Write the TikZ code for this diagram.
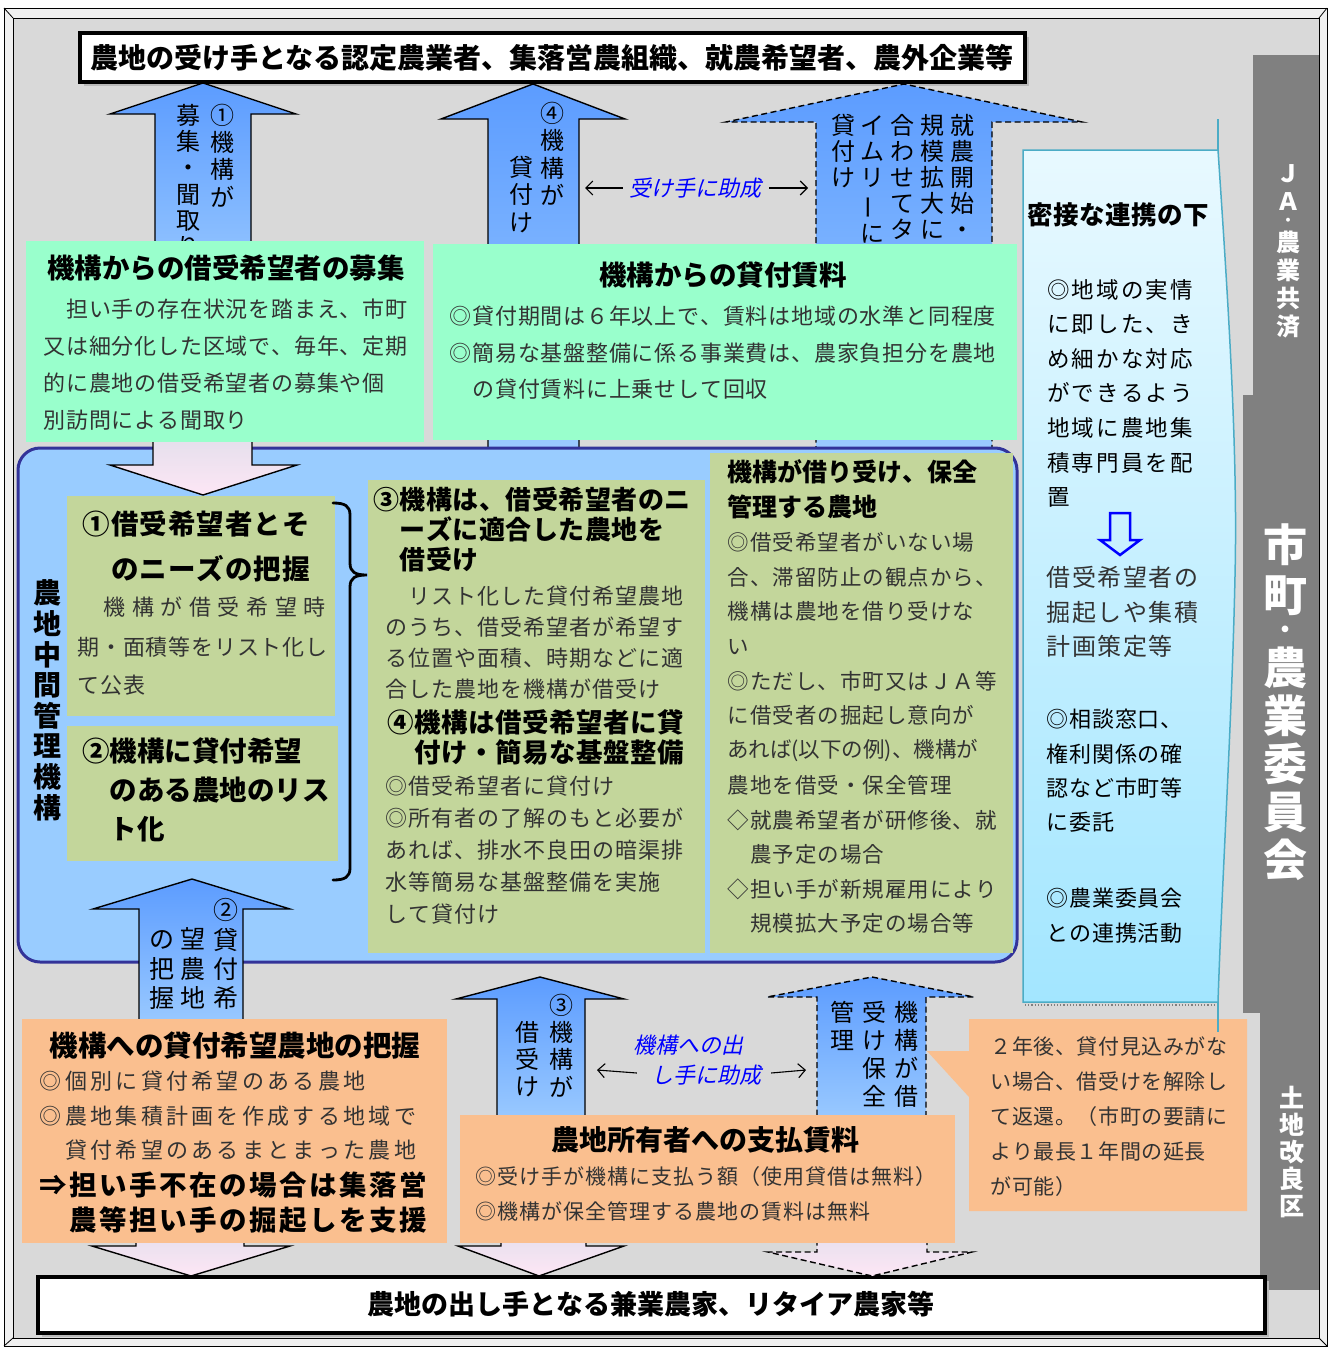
\documentclass[tikz,border=0pt]{standalone}
\usepackage{fontspec}
\usepackage{graphicx}
\setmainfont{Noto Sans CJK JP}
\newfontfamily\slfont{Noto Sans CJK JP}[FakeSlant=0.22]
\usetikzlibrary{arrows.meta}
\definecolor{bgg}{HTML}{D9D9D9}
\definecolor{dg}{HTML}{808080}
\definecolor{mint}{HTML}{99FFCC}
\definecolor{olive}{HTML}{C3D69B}
\definecolor{cont}{HTML}{99CCFF}
\definecolor{navy}{HTML}{333399}
\definecolor{orng}{HTML}{FABF8F}
\definecolor{arT}{HTML}{5C9CFF}
\definecolor{arB}{HTML}{9CCBFF}
\definecolor{pkT}{HTML}{E4DFEC}
\definecolor{pkB}{HTML}{FDE6F5}
\definecolor{panT}{HTML}{E8F9FF}
\definecolor{panB}{HTML}{A3E6FF}
\definecolor{teal1}{HTML}{4BACC6}
\definecolor{bodyc}{HTML}{333333}
\makeatletter
\newcommand\pitched[2]{\edef\p@tmp{\noexpand\@tfor\noexpand\p@c:=#2\noexpand\do}\p@tmp{\hbox to #1{\hss\p@c\hss}}}
\newcommand\vcol[2]{\vbox{\offinterlineskip\@tfor\vc@c:=#2\do{\hbox to 1em{\vrule height .88em depth .12em width 0pt\hss\vc@c\hss}\kern\dimexpr#1-1em\relax}}}
\makeatother
\newcommand\block[8]{\foreach \tx [count=\i from 0] in {#8}{\node[anchor=base west,inner sep=0pt,font=\fontsize{#6}{#6}\selectfont#7] (#1-\i) at (#2,{#3+\i*#4+0.36*#6}) {\pitched{#5pt}{\tx}};}}
\tikzset{
 uparr/.style={draw=black,line width=1.4,top color=arT,bottom color=arB,line join=miter},
 dup/.style={uparr,dash pattern=on 6pt off 3.5pt},
 pinkarr/.style={draw=black,line width=1.4,top color=pkT,bottom color=pkB,line join=miter},
 dpink/.style={pinkarr,dash pattern=on 6pt off 3.5pt},
 sarr/.style={-{Straight Barb[length=7pt,width=14pt]},line width=1.1},
 vtx/.style={anchor=north,inner sep=0pt},
 ttl/.style={inner sep=0pt},
 bluei/.style={inner sep=0pt,text=blue,font=\slfont\fontsize{22}{22}\selectfont}
}
\begin{document}
\begin{tikzpicture}[x=1pt,y=-1pt]
\useasboundingbox (0,0) rectangle (1331,1349);
\fill[white] (0,0) rectangle (1331,1349);
% frame
\draw[fill=gray!12,line width=0.8] (4,8) rectangle (1327,1346);
\draw[fill=bgg,line width=0.8] (13,18) rectangle (1319,1338);
\draw[line width=0.8] (4,8)--(13,18) (1327,8)--(1319,18) (4,1346)--(13,1338) (1327,1346)--(1319,1338);
% dark side bars
\fill[dg] (1253,55) rectangle (1319,396);
\fill[dg] (1243,395) rectangle (1319,1013);
\fill[dg] (1260,1012) rectangle (1319,1290);
% top and bottom boxes
\fill[gray!55] (84,37) rectangle (1029,86);
\draw[line width=3.5,fill=white] (80,33) rectangle (1025,82);
\fill[gray!55] (42,1281) rectangle (1269,1337);
\draw[line width=3.5,fill=white] (38,1277) rectangle (1265,1333);
% upper up-arrows
\path[uparr] (155,300) -- (155,114) -- (110,114) -- (203,83) -- (296,114) -- (251,114) -- (251,300) -- cycle;
\path[uparr] (488,452) -- (488,119) -- (441,119) -- (533,84) -- (625,119) -- (579,119) -- (579,452) -- cycle;
\path[dup] (816,452) -- (816,122) -- (726,122) -- (904,84) -- (1082,122) -- (992,122) -- (992,452) -- cycle;
% their texts (partly hidden by the boxes below)
\node[vtx,font=\fontsize{24}{24}\selectfont] (a1r) at (222,103) {\vcol{27.3pt}{①機構が}};
\node[vtx,font=\fontsize{24}{24}\selectfont] (a1l) at (188,103) {\vcol{26.3pt}{募集・聞取り}};
\node[vtx,font=\fontsize{24}{24}\selectfont] (a4r) at (552,101) {\vcol{27.5pt}{④機構が}};
\node[vtx,font=\fontsize{24}{24}\selectfont] (a4l) at (521,155) {\vcol{27.5pt}{貸付け}};
\node[vtx,font=\fontsize{24}{24}\selectfont] (d1c1) at (962,113) {\vcol{26pt}{就農開始・}};
\node[vtx,font=\fontsize{24}{24}\selectfont] (d1c2) at (932,113) {\vcol{26pt}{規模拡大に}};
\node[vtx,font=\fontsize{24}{24}\selectfont] (d1c3) at (902,113) {\vcol{26pt}{合わせてタ}};
\node[vtx,font=\fontsize{24}{24}\selectfont] (d1c4) at (872,113) {\vcol{26pt}{イムリ{\rotatebox[origin=c]{90}{ー}}に}};
\node[vtx,font=\fontsize{24}{24}\selectfont] (d1c5) at (843,113) {\vcol{26pt}{貸付け}};
% container
\draw[line width=3,draw=navy,fill=cont,rounded corners=22] (18,448) rectangle (1017,962);
\path[pinkarr] (153,436) -- (153,465) -- (110,465) -- (203,495) -- (297,465) -- (252,465) -- (252,436) -- cycle;
% green boxes
\fill[mint] (26,241) rectangle (424,442);
\fill[mint] (433,244) rectangle (1017,440);
% olive boxes
\fill[olive] (67,496) rectangle (335,716);
\fill[olive] (67,726) rectangle (338,861);
\fill[olive] (368,480) rectangle (705,953);
\fill[olive] (710,453) rectangle (1013,953);
% brace
\draw[line width=2.8,line cap=round] (333,503) .. controls (345,503) and (350,506) .. (350,515) -- (350,563) .. controls (350,572) and (355,575) .. (367,575) .. controls (355,575) and (350,578) .. (350,587) -- (350,868) .. controls (350,877) and (345,880) .. (333,880);
% right panel
\draw[teal1,line width=1.5] (1218,150) -- (1218,119);
\draw[draw=teal1,line width=1.5,top color=panT,bottom color=panB] (1023,150) -- (1218,150) .. controls (1228,300) and (1238,450) .. (1235,576) .. controls (1232,720) and (1222,880) .. (1218,1002) -- (1023,1002) -- cycle;
\draw[gray,line width=1.2,dotted] (1025,1005) -- (1218,1005);
% callout
\fill[orng] (969,1019) -- (1247,1019) -- (1247,1211) -- (969,1211) -- (969,1097) -- (927,1051) -- (969,1051) -- cycle;
\draw[teal1,line width=1.5] (1218,1002) -- (1218,1032);
% lower up-arrows
\path[uparr] (139,1030) -- (139,909) -- (93,909) -- (192,879) -- (290,909) -- (243,909) -- (243,1030) -- cycle;
\path[uparr] (497,1125) -- (497,999) -- (456,999) -- (540,977) -- (624,999) -- (585,999) -- (585,1125) -- cycle;
\path[dup] (817,1125) -- (817,997) -- (767,997) -- (872,977) -- (974,997) -- (926,997) -- (926,1125) -- cycle;
% bottom down arrows
\path[pinkarr] (136,1230) -- (136,1246) -- (92,1246) -- (191,1276) -- (290,1246) -- (244,1246) -- (244,1230) -- cycle;
\path[pinkarr] (501,1230) -- (501,1246) -- (458,1246) -- (539,1276) -- (624,1246) -- (586,1246) -- (586,1230) -- cycle;
\path[dpink] (817,1230) -- (817,1252) -- (768,1252) -- (872,1276) -- (972,1252) -- (927,1252) -- (927,1230) -- cycle;
% orange boxes
\fill[orng] (22,1019) rectangle (447,1243);
\fill[orng] (460,1115) rectangle (955,1243);

% ---------- texts ----------
\node[ttl,font=\fontsize{28}{28}\selectfont\bfseries] (toptx) at (552,58) {農地の受け手となる認定農業者、集落営農組織、就農希望者、農外企業等};
\node[ttl,font=\fontsize{27}{27}\selectfont\bfseries] (bottx) at (651,1304) {農地の出し手となる兼業農家、リタイア農家等};

\node[ttl,font=\fontsize{27.5}{27.5}\selectfont\bfseries] (g1t) at (226,268) {機構からの借受希望者の募集};
\block{g1}{43}{310}{37}{22.8}{22}{\color{bodyc}}{　担い手の存在状況を踏まえ、市町,又は細分化した区域で、毎年、定期,的に農地の借受希望者の募集や個,別訪問による聞取り}

\node[ttl,font=\fontsize{27.5}{27.5}\selectfont\bfseries] (g2t) at (723,275) {機構からの貸付賃料};
\block{g2}{449}{317}{36.5}{22.8}{22}{\color{bodyc}}{◎貸付期間は６年以上で、賃料は地域の水準と同程度,◎簡易な基盤整備に係る事業費は、農家負担分を農地,　の貸付賃料に上乗せして回収}

\block{o1t}{82}{525}{45}{28.5}{27.5}{\bfseries}{①借受希望者とそ,　のニーズの把握}
\block{o1a}{100}{608}{0}{28.6}{22}{\color{bodyc}}{機構が借受希望時}
\block{o1b}{77}{648}{37.5}{22.8}{22}{\color{bodyc}}{期・面積等をリスト化し,て公表}

\block{o2t}{82}{752}{39}{27.5}{27.5}{\bfseries}{②機構に貸付希望,　のある農地のリス,　ト化}

\block{o3t}{373}{500}{30}{26.5}{26}{\bfseries}{③機構は、借受希望者のニ,　ーズに適合した農地を,　借受け}
\block{o3b}{385}{597}{31}{23}{22}{\color{bodyc}}{　リスト化した貸付希望農地,のうち、借受希望者が希望す,る位置や面積、時期などに適,合した農地を機構が借受け}
\block{o4t}{387}{723}{30}{27}{26.5}{\bfseries}{④機構は借受希望者に貸,　付け・簡易な基盤整備}
\block{o4b}{385}{787}{32}{23}{22}{\color{bodyc}}{◎借受希望者に貸付け,◎所有者の了解のもと必要が,あれば、排水不良田の暗渠排,水等簡易な基盤整備を実施,して貸付け}

\block{ort}{727}{472}{35}{25}{25}{\bfseries}{機構が借り受け、保全,管理する農地}
\block{orb}{727}{543}{34.6}{22.5}{21.5}{\color{bodyc}}{◎借受希望者がいない場,合、滞留防止の観点から、,機構は農地を借り受けな,い,◎ただし、市町又はＪＡ等,に借受者の掘起し意向が}
\node[anchor=base west,inner sep=0pt,font=\fontsize{21.5}{21.5}\selectfont\color{bodyc}] (orx) at (727,757.7) {あれば(以下の例)、機構が};
\block{orc}{727}{786}{34.5}{22.5}{21.5}{\color{bodyc}}{農地を借受・保全管理,◇就農希望者が研修後、就,　農予定の場合,◇担い手が新規雇用により,　規模拡大予定の場合等}

\block{pt}{1027}{215}{0}{26}{25.5}{\bfseries}{密接な連携の下}
\block{pa}{1046}{290}{34.6}{24.6}{22.5}{\color{black}}{◎地域の実情,に即した、き,め細かな対応,ができるよう,地域に農地集,積専門員を配,置}
\block{pb}{1046}{578}{34.5}{25.5}{24}{\color{bodyc}}{借受希望者の,掘起しや集積,計画策定等}
\block{pc}{1046}{720}{34.3}{22.8}{22}{\color{black}}{◎相談窓口、,権利関係の確,認など市町等,に委託}
\block{pd}{1046}{899}{35}{22.8}{22}{\color{black}}{◎農業委員会,との連携活動}
\draw[blue,line width=2.5,line join=miter] (1110,513) -- (1130,513) -- (1130,540) -- (1140,540) -- (1120,555) -- (1100,540) -- (1110,540) -- cycle;

\node[ttl,font=\fontsize{28.5}{28.5}\selectfont\bfseries] (r1t) at (235,1046) {機構への貸付希望農地の把握};
\block{r1a}{38}{1082}{34.5}{25.3}{22}{\color{bodyc}}{◎個別に貸付希望のある農地,◎農地集積計画を作成する地域で,　貸付希望のあるまとまった農地}
\block{r1b}{38}{1186}{34.5}{30}{27.5}{\bfseries}{⇒担い手不在の場合は集落営,　農等担い手の掘起しを支援}

\node[ttl,font=\fontsize{28}{28}\selectfont\bfseries] (r2t) at (705,1140) {農地所有者への支払賃料};
\block{r2}{475}{1177}{35}{22}{21}{\color{bodyc}}{◎受け手が機構に支払う額（使用貸借は無料）,◎機構が保全管理する農地の賃料は無料}

\block{co}{990}{1047}{35}{21.6}{21}{\color{bodyc}}{２年後、貸付見込みがな,い場合、借受けを解除し,て返還。（市町の要請に,より最長１年間の延長,が可能）}

% vertical texts of the lower arrows
\node[vtx,font=\fontsize{25}{25}\selectfont] (a2r) at (226,897.5) {\vcol{29.3pt}{②貸付希}};
\node[vtx,font=\fontsize{25}{25}\selectfont] (a2m) at (193,926.5) {\vcol{29.3pt}{望農地}};
\node[vtx,font=\fontsize{25}{25}\selectfont] (a2l) at (162,926.5) {\vcol{29.3pt}{の把握}};
\node[vtx,font=\fontsize{24}{24}\selectfont] (a3r) at (561,993) {\vcol{27.3pt}{③機構が}};
\node[vtx,font=\fontsize{24}{24}\selectfont] (a3l) at (527,1020) {\vcol{27.3pt}{借受け}};
\node[vtx,font=\fontsize{24}{24}\selectfont] (d2c1) at (906,1000) {\vcol{28pt}{機構が借}};
\node[vtx,font=\fontsize{24}{24}\selectfont] (d2c2) at (874,1000) {\vcol{28pt}{受け保全}};
\node[vtx,font=\fontsize{24}{24}\selectfont] (d2c3) at (842,1000) {\vcol{28pt}{管理}};

\node[vtx,font=\fontsize{28}{28}\selectfont\bfseries] (kiko) at (47,579) {\vcol{30.6pt}{農地中間管理機構}};

\node[vtx,text=white,font=\fontsize{24}{24}\selectfont\bfseries] (ja1) at (1288,161) {\vcol{28pt}{ＪＡ}};
\node[inner sep=0pt,text=white,font=\fontsize{14}{14}\selectfont\bfseries] (ja2) at (1288,222) {・};
\node[vtx,text=white,font=\fontsize{24}{24}\selectfont\bfseries] (ja3) at (1288,230) {\vcol{28pt}{農業共済}};
\node[vtx,text=white,font=\fontsize{44}{44}\selectfont\bfseries] (sm1) at (1285,523) {\vcol{50pt}{市町}};
\node[inner sep=0pt,text=white,font=\fontsize{24}{24}\selectfont\bfseries] (sm2) at (1285,632) {・};
\node[vtx,text=white,font=\fontsize{44}{44}\selectfont\bfseries] (sm3) at (1285,646) {\vcol{48pt}{農業委員会}};
\node[vtx,text=white,font=\fontsize{25}{25}\selectfont\bfseries] (tk) at (1292,1085.5) {\vcol{27pt}{土地改良区}};

% subsidy labels
\node[bluei] (s1) at (695,188) {受け手に助成};
\coordinate (s1L) at (585,188);
\coordinate (s1R) at (808,188);
\draw[sarr] ([xshift=-6pt]s1.west) -- (s1L);
\draw[sarr] ([xshift=8pt]s1.east) -- (s1R);
\node[bluei] (s2a) at (688,1045) {機構への出};
\node[bluei] (s2b) at (706,1075) {し手に助成};
\coordinate (s2L) at (597,1070);
\coordinate (s2R) at (806,1070);
\draw[sarr] ([xshift=-14pt,yshift=2pt]s2b.west) -- (s2L);
\draw[sarr] ([xshift=10pt,yshift=2pt]s2b.east) -- (s2R);
\end{tikzpicture}
\end{document}
